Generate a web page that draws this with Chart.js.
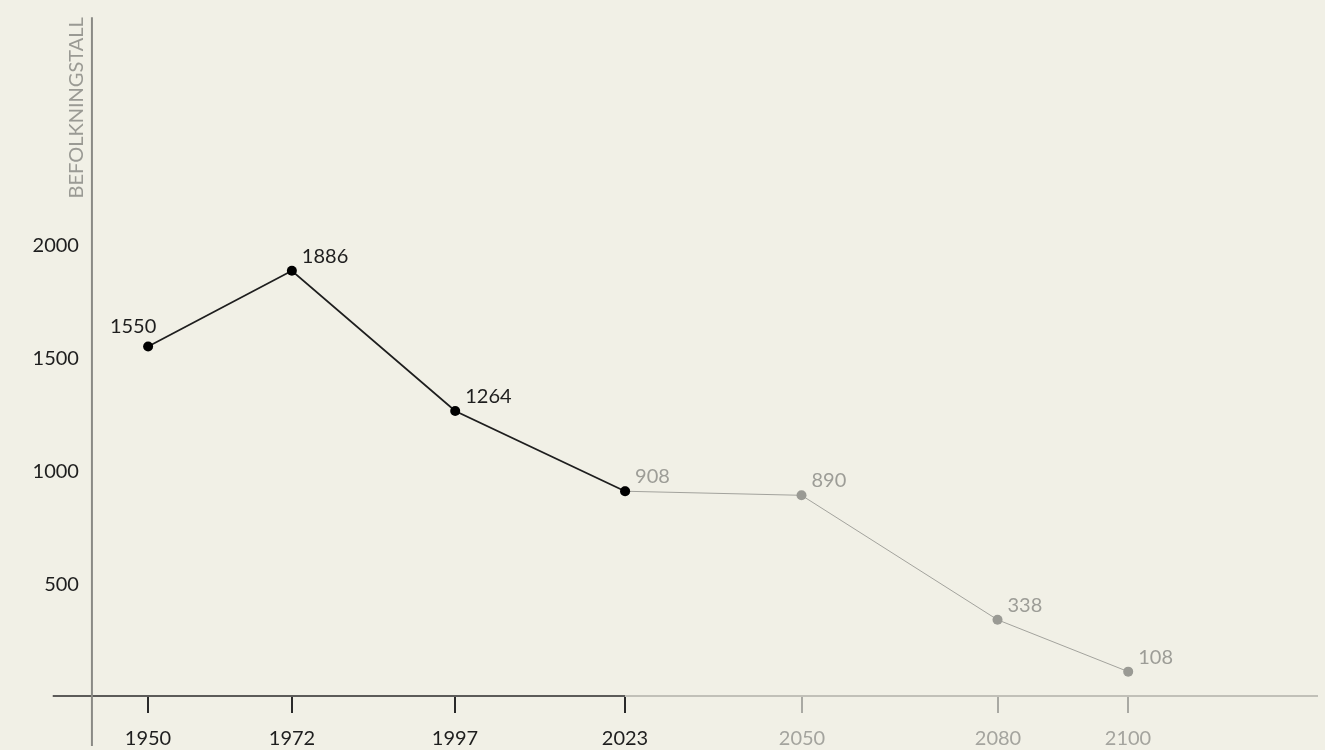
<!DOCTYPE html>
<html>
<head>
<meta charset="utf-8">
<script src="https://cdn.jsdelivr.net/npm/chart.js@4.4.1/dist/chart.umd.min.js"></script>
<style>
  html, body { margin: 0; padding: 0; background: #f1f0e6; }
  #wrap { width: 1325px; height: 750px; }
</style>
</head>
<body>
<div id="wrap"><canvas id="c" width="1325" height="750"></canvas></div>
<script>
// ---- data ----
const tickYears = [1950, 1972, 1997, 2023, 2050, 2080, 2100];
const histYears = [1950, 1972, 1997, 2023];
const histValues = [1550, 1886, 1264, 908];
const projYears = [2023, 2050, 2080, 2100];
const projValues = [908, 890, 338, 108];
const yTicks = [500, 1000, 1500, 2000];
const yTitle = 'BEFOLKNINGSTALL';
const lastHistYear = 2023;

const DARK = '#1e1e1e';
const GRAY = '#9d9d97';
const FONT = 'Lato, "Noto Sans", sans-serif';

const toPts = (xs, ys) => xs.map((x, i) => ({ x, y: ys[i] }));

const axesPlugin = {
  id: 'axesPlugin',
  beforeDraw(chart) {
    const ctx = chart.ctx;
    ctx.save();
    ctx.fillStyle = '#f1f0e6';
    ctx.fillRect(0, 0, chart.width, chart.height);
    ctx.restore();
  },
  beforeDatasetsDraw(chart) {
    const ctx = chart.ctx;
    const xs = chart.scales.x, ys = chart.scales.y;
    const axisX = xs.getPixelForValue(1941.4);
    const axisY = ys.getPixelForValue(0);
    const xLeft = xs.getPixelForValue(1935.4);
    const xRight = xs.getPixelForValue(2129.05);
    const xSplit = xs.getPixelForValue(lastHistYear);
    ctx.save();
    // x axis line
    ctx.lineWidth = 1.5;
    ctx.strokeStyle = '#2a2a2a';
    ctx.beginPath(); ctx.moveTo(xLeft, axisY); ctx.lineTo(xSplit, axisY); ctx.stroke();
    ctx.strokeStyle = '#b0b0a8';
    ctx.beginPath(); ctx.moveTo(xSplit, axisY); ctx.lineTo(xRight, axisY); ctx.stroke();
    // y axis line
    ctx.strokeStyle = '#8a8a85';
    ctx.lineWidth = 2;
    const yTop = ys.getPixelForValue(3010);
    const yBot = ys.getPixelForValue(-222);
    ctx.beginPath(); ctx.moveTo(axisX, yTop); ctx.lineTo(axisX, yBot); ctx.stroke();
    // x ticks + labels
    ctx.font = '20px ' + FONT;
    ctx.textAlign = 'center';
    ctx.textBaseline = 'alphabetic';
    tickYears.forEach(yr => {
      const px = Math.round(xs.getPixelForValue(yr));
      const c = yr <= lastHistYear ? '#2a2a2a' : '#a9a9a3';
      ctx.strokeStyle = c;
      ctx.lineWidth = 2;
      ctx.beginPath(); ctx.moveTo(px, axisY + 1); ctx.lineTo(px, axisY + 17); ctx.stroke();
      ctx.fillStyle = yr <= lastHistYear ? DARK : '#a4a49e';
      ctx.fillText(String(yr), px, axisY + 49);
    });
    // y ticks labels
    ctx.textAlign = 'right';
    ctx.textBaseline = 'middle';
    ctx.fillStyle = DARK;
    yTicks.forEach(v => {
      ctx.fillText(String(v), axisX - 13, ys.getPixelForValue(v) + 1);
    });
    // y title
    ctx.save();
    ctx.translate(axisX - 9, yTop);
    ctx.rotate(-Math.PI / 2);
    ctx.font = '20px ' + FONT;
    ctx.fillStyle = '#9a9a94';
    ctx.textAlign = 'right';
    ctx.textBaseline = 'alphabetic';
    ctx.fillText(yTitle, 0, 0);
    ctx.restore();
    ctx.restore();
  },
  afterDatasetsDraw(chart) {
    const ctx = chart.ctx;
    ctx.save();
    ctx.font = '20px ' + FONT;
    ctx.textBaseline = 'alphabetic';
    const hist = chart.getDatasetMeta(0).data;
    const proj = chart.getDatasetMeta(1).data;
    hist.forEach((pt, i) => {
      if (i === hist.length - 1) return;
      ctx.fillStyle = DARK;
      if (i === 0) {
        ctx.textAlign = 'center';
        ctx.fillText(String(histValues[i]), pt.x - 15, pt.y - 13);
      } else {
        ctx.textAlign = 'left';
        ctx.fillText(String(histValues[i]), pt.x + 10, pt.y - 8);
      }
    });
    proj.forEach((pt, i) => {
      ctx.fillStyle = GRAY;
      ctx.textAlign = 'left';
      ctx.fillText(String(projValues[i]), pt.x + 10, pt.y - 8);
    });
    ctx.restore();
  }
};

new Chart(document.getElementById('c'), {
  type: 'line',
  data: {
    datasets: [
      {
        data: toPts(histYears, histValues),
        borderColor: DARK,
        backgroundColor: '#000',
        borderWidth: 1.8,
        pointRadius: 5,
        pointBorderWidth: 0,
        pointBackgroundColor: '#000',
        tension: 0
      },
      {
        data: toPts(projYears, projValues),
        borderColor: '#a3a39d',
        borderWidth: 1,
        pointRadius: 5,
        pointBorderWidth: 0,
        pointBackgroundColor: '#9a9a94',
        tension: 0
      }
    ]
  },
  options: {
    responsive: false,
    animation: false,
    events: [],
    layout: { padding: 0, autoPadding: false },
    plugins: { legend: { display: false }, tooltip: { enabled: false } },
    scales: {
      x: { type: 'linear', min: 1927.33, max: 2130.12, display: false },
      y: { type: 'linear', min: -239.5, max: 3086.5, display: false }
    }
  },
  plugins: [axesPlugin]
});
</script>
</body>
</html>
